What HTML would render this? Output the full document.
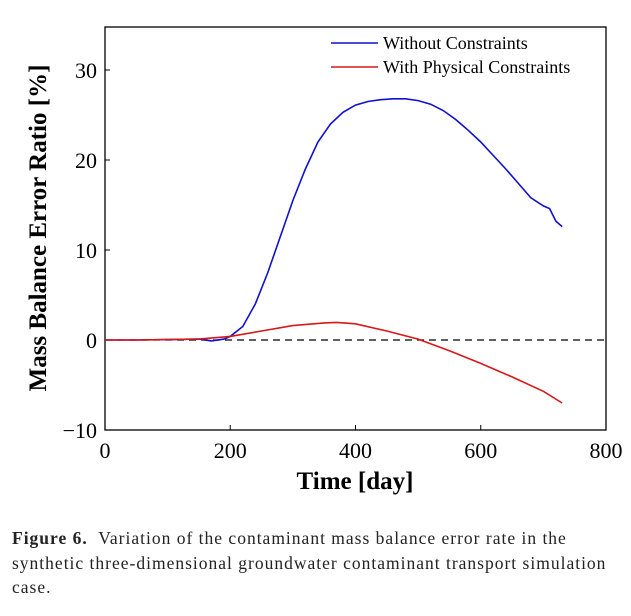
<!DOCTYPE html>
<html><head><meta charset="utf-8"><style>
body{margin:0;background:#fff;width:631px;height:616px;overflow:hidden;font-family:"Liberation Serif",serif}
#cap{position:absolute;left:12px;top:526px;width:620px;font-size:17.5px;line-height:24.5px;color:#222;white-space:nowrap;letter-spacing:1px}
</style></head><body>
<svg id="chart" width="631" height="520" style="position:absolute;left:0;top:0" font-family="Liberation Serif, serif"></svg>
<div id="cap"><b>Figure 6.</b>&nbsp; Variation of the contaminant mass balance error rate in the<br>synthetic three-dimensional groundwater contaminant transport simulation<br>case.</div>
<script>
const xTicks=[0,200,400,600,800];
const yTicks=[-10,0,10,20,30];
const blueDays=[0,50,100,150,170,190,200,220,240,260,280,300,320,340,360,380,400,420,440,460,480,500,520,540,560,580,600,620,640,660,680,700,710,720,730];
const blueVals=[0,0,0.05,0.1,-0.1,0.1,0.4,1.5,4,7.5,11.5,15.5,19,22,24,25.3,26.1,26.5,26.7,26.8,26.8,26.6,26.2,25.5,24.5,23.3,22,20.5,19,17.4,15.8,14.9,14.6,13.2,12.6];
const redDays=[0,50,100,150,200,250,300,350,370,400,450,500,550,600,650,700,730];
const redVals=[0,0,0.05,0.1,0.4,1.0,1.6,1.9,1.95,1.8,1.0,0.1,-1.2,-2.6,-4.1,-5.7,-7];
const L=105,R=606,T=27,B=430;
const X=d=>L+(d-0)/800*(R-L);
const Y=v=>340-v*9;
const svg=document.getElementById('chart');
const NS='http://www.w3.org/2000/svg';
function mk(t,a,p){const e=document.createElementNS(NS,t);for(const k in a)e.setAttribute(k,a[k]);(p||svg).appendChild(e);return e;}
let e=mk('rect',{x:L,y:T,width:R-L,height:B-T,fill:'none',stroke:'#000','stroke-width':1.3});


xTicks.forEach(t=>{
 let l=mk('line',{x1:X(t),x2:X(t),y1:B,y2:B-5,stroke:'#000'});
 
 
 let s=mk('text',{x:X(t),y:B+28,'text-anchor':'middle','font-size':22});s.textContent=t;
 
 
});
yTicks.forEach(t=>{
 let l=mk('line',{x1:L,x2:L+5,y1:Y(t),y2:Y(t),stroke:'#000'});
 
 
 let s=mk('text',{x:L-8,y:Y(t)+8,'text-anchor':'end','font-size':22});s.textContent=(t<0?'\u2212':'')+Math.abs(t);
 
 
});
e=mk('line',{x1:L,x2:R,y1:Y(0),y2:Y(0),stroke:'#000','stroke-dasharray':'7,5','stroke-width':1.2});


function line(ds,vs,c,n){let p=mk('polyline',{points:ds.map((d,i)=>X(d)+','+Y(vs[i])).join(' '),fill:'none',stroke:c,'stroke-width':1.6});
 
 }
line(blueDays,blueVals,'#1010d0','series-without-constraints');
line(redDays,redVals,'#d81818','series-with-physical-constraints');
e=mk('text',{x:355,y:489,'text-anchor':'middle','font-size':25,'font-weight':'bold'});e.textContent='Time [day]';


e=mk('text',{x:0,y:0,'text-anchor':'middle','font-size':25,'font-weight':'bold',transform:'translate(46,228) rotate(-90)'});e.textContent='Mass Balance Error Ratio [%]';


[['Without Constraints','#1010d0',43],['With Physical Constraints','#d81818',67]].forEach(([t,c,y])=>{
 let l=mk('line',{x1:331,x2:378,y1:y,y2:y,stroke:c,'stroke-width':1.6});
 
 
 let s=mk('text',{x:383,y:y+6,'font-size':18});s.textContent=t;
 
 
});
</script>
</body></html>
